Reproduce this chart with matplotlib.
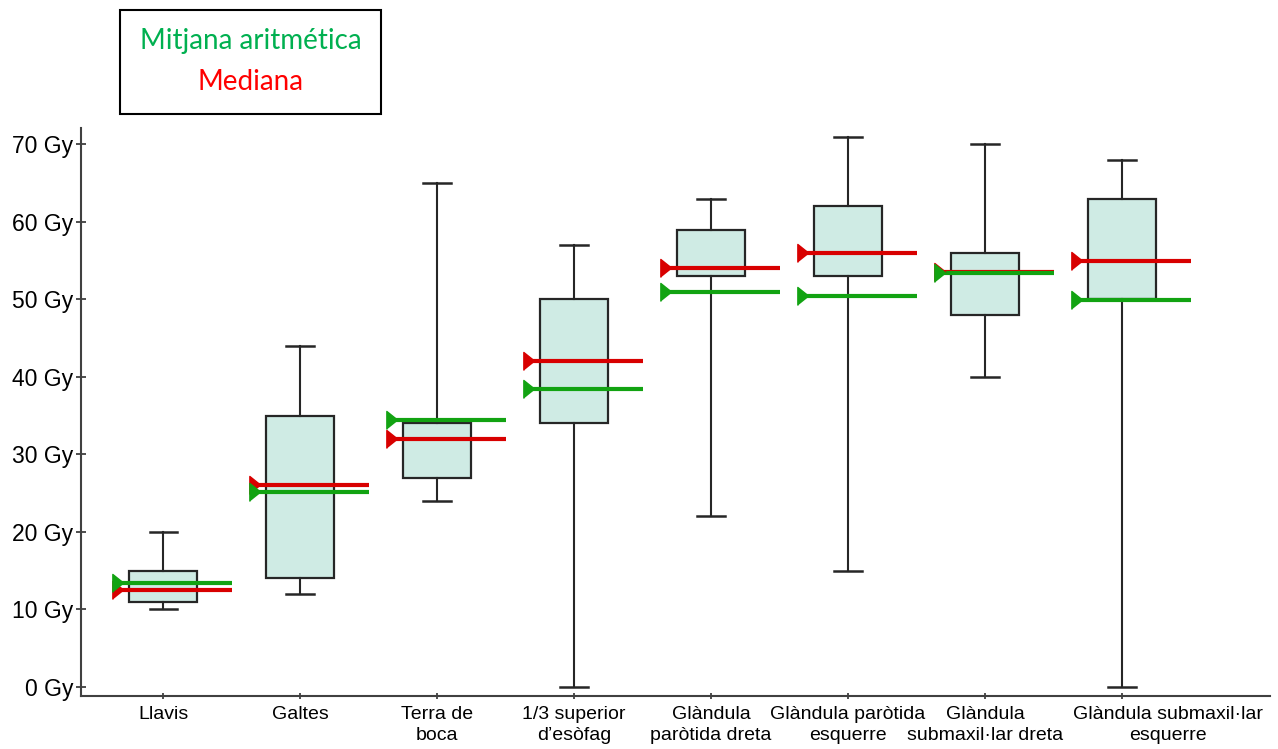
import matplotlib.pyplot as plt
from matplotlib.patches import Rectangle
from matplotlib.transforms import ScaledTranslation

# Dose per organ (Gy): box quartiles, whisker ends, mean and median
organs = [
    "Llavis",
    "Galtes",
    "Terra de\nboca",
    "1/3 superior\nd\u2019es\u00f2fag",
    "Gl\u00e0ndula\npar\u00f2tida dreta",
    "Gl\u00e0ndula par\u00f2tida\nesquerre",
    "Gl\u00e0ndula\nsubmaxil\u00b7lar dreta",
    "Gl\u00e0ndula submaxil\u00b7lar\nesquerre",
]
q1 = [11, 14, 27, 34, 53, 53, 48, 50]
q3 = [15, 35, 34, 50, 59, 62, 56, 63]
whisk_lo = [10, 12, 24, 0, 22, 15, 40, 0]
whisk_hi = [20, 44, 65, 57, 63, 71, 70, 68]
mean = [13.4, 25.2, 34.5, 38.5, 50.9, 50.4, 53.4, 49.9]
median = [12.5, 26, 32, 42, 54, 56, 53.5, 55]

y_ticks = [0, 10, 20, 30, 40, 50, 60, 70]
y_labels = [f"{v} Gy" for v in y_ticks]

GREEN = "#12a312"
RED = "#d80000"
EDGE = "#262626"

fig = plt.figure(figsize=(12.78, 7.49), dpi=100)
ax = fig.add_axes([0.0634, 0.0708, 0.9303, 0.7582])

pos = list(range(1, len(organs) + 1))
stats = [
    dict(med=m, q1=a, q3=b, whislo=lo, whishi=hi, fliers=[])
    for m, a, b, lo, hi in zip(median, q1, q3, whisk_lo, whisk_hi)
]
ax.bxp(stats, positions=pos, widths=0.5, capwidths=0.2,
       patch_artist=True, showfliers=False,
       boxprops=dict(facecolor="#cfebe4", edgecolor=EDGE, linewidth=1.6),
       whiskerprops=dict(color=EDGE, linewidth=1.5),
       capprops=dict(color=EDGE, linewidth=1.8),
       medianprops=dict(linewidth=0))

# right-pointing flag at the start of each reference line
flag = [(-1, -1.6), (-1, 1.6), (1, 0)]
for x, mn, md in zip(pos, mean, median):
    for val, col in ((md, RED), (mn, GREEN)):
        ax.hlines(val, x - 0.33, x + 0.5, colors=col, linewidth=3, zorder=4)
        ax.plot(x - 0.33, val, marker=flag, markersize=13, color=col,
                linestyle="none", zorder=5)

ax.set_xlim(0.4, 9.08)
ax.set_ylim(-1.16, 72.1)
ax.set_xticks(pos)
ax.set_xticklabels(organs, fontsize=14, family="Liberation Sans",
                   linespacing=1.3)
ax.set_yticks(y_ticks)
ax.set_yticklabels(y_labels, fontsize=16.5, family="Liberation Sans")
ax.tick_params(axis="both", direction="inout", length=7, width=1.3,
               color="#404040")
ax.tick_params(axis="x", length=5, pad=5)
ax.tick_params(axis="y", pad=2)

# last label sits a bit to the right so it clears its neighbour
last = ax.get_xticklabels()[-1]
last.set_transform(last.get_transform()
                   + ScaledTranslation(0.46, 0, fig.dpi_scale_trans))

for side in ("top", "right"):
    ax.spines[side].set_visible(False)
for side in ("left", "bottom"):
    ax.spines[side].set_color("#404040")
    ax.spines[side].set_linewidth(1.5)

# key box above the plot
fig.patches.append(Rectangle((0.0939, 0.8478), 0.2042, 0.1389,
                             transform=fig.transFigure, fill=False,
                             edgecolor="black", linewidth=1.5))
fig.text(0.1960, 0.945, "Mitjana aritm\u00e9tica", color="#00b050",
         fontsize=20, family="Lato", ha="center", va="center")
fig.text(0.1960, 0.891, "Mediana", color="#ff0000",
         fontsize=20, family="Lato", ha="center", va="center")

fig.savefig("out.png", dpi=100)
